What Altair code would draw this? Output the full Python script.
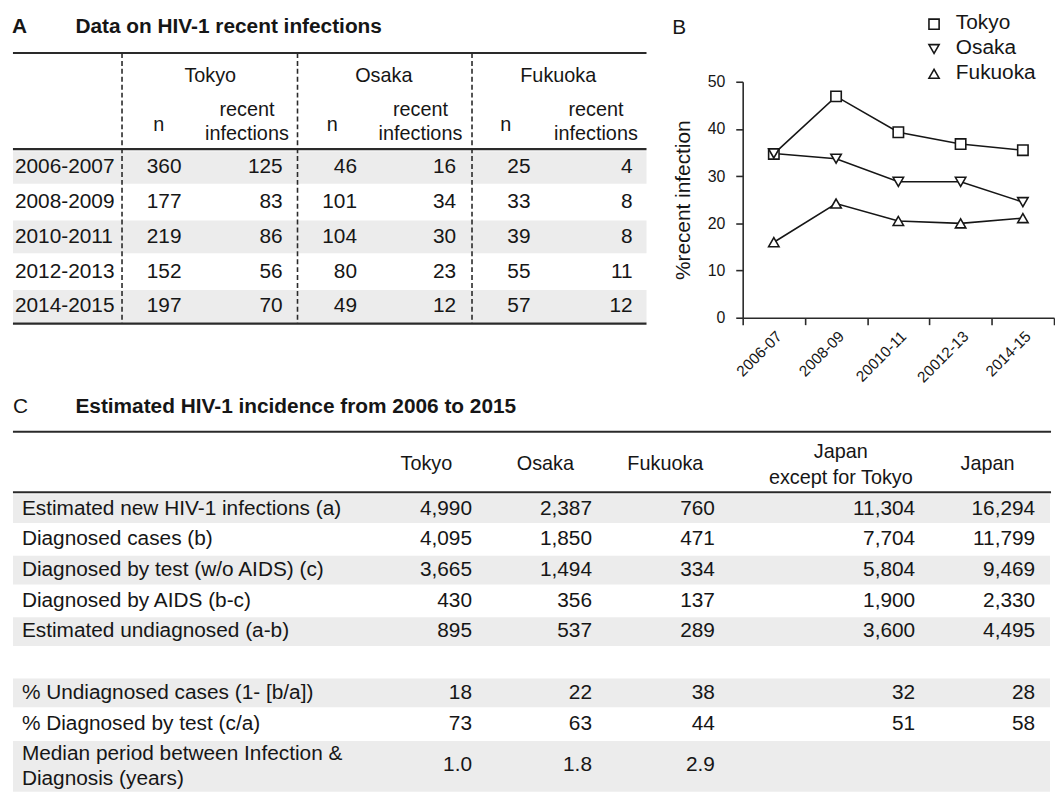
import altair as alt
import pandas as pd

# ---------------- data ----------------
cities = ["Tokyo", "Osaka", "Fukuoka"]
city_shapes = ["square", "triangle-down", "triangle-up"]

# Panel A: table of recent infections
periods_a = ["2006-2007", "2008-2009", "2010-2011", "2012-2013", "2014-2015"]
tokyo_n = [360, 177, 219, 152, 197]
tokyo_recent = [125, 83, 86, 56, 70]
osaka_n = [46, 101, 104, 80, 49]
osaka_recent = [16, 34, 30, 23, 12]
fukuoka_n = [25, 33, 39, 55, 57]
fukuoka_recent = [4, 8, 8, 11, 12]

# Panel B: % recent infection
periods_b = ["2006-07", "2008-09", "20010-11", "20012-13", "2014-15"]
tokyo_pct = [34.7, 46.9, 39.3, 36.8, 35.5]
osaka_pct = [34.8, 33.7, 28.8, 28.8, 24.5]
fukuoka_pct = [16.0, 24.2, 20.5, 20.0, 21.1]

# Panel C: estimated incidence
c_row_labels = [
    "Estimated new HIV-1 infections (a)",
    "Diagnosed cases (b)",
    "Diagnosed by test (w/o AIDS)  (c)",
    "Diagnosed by AIDS  (b-c)",
    "Estimated undiagnosed (a-b)",
    "% Undiagnosed cases (1- [b/a])",
    "% Diagnosed by test (c/a)",
    "Median period between Infection &|Diagnosis (years)",
]
c_col_labels = ["Tokyo", "Osaka", "Fukuoka", "Japan|except for Tokyo", "Japan"]
c_tokyo = [4990, 4095, 3665, 430, 895, 18, 73, 1.0]
c_osaka = [2387, 1850, 1494, 356, 537, 22, 63, 1.8]
c_fukuoka = [760, 471, 334, 137, 289, 38, 44, 2.9]
c_japan_ex = [11304, 7704, 5804, 1900, 3600, 32, 51, None]
c_japan = [16294, 11799, 9469, 2330, 4495, 28, 58, None]

# ---------------- layout (pixels) ----------------
W, H = 1055, 785
FONT = "Liberation Sans"
INK = "#161616"
RULE = "#2a2a2a"
SHADE = "#ececec"
FS = 21

A_ROW0, A_PITCH = 157.5, 35
A_LEFT, A_RIGHT = 5, 644
A_VAL_RIGHT = [(175, 277), (352, 452), (527, 630)]
A_GROUP_C = [204, 379, 555]
A_N_C = [152, 327, 502]
A_REC_C = [241, 416, 593]
A_DASH = [115, 292, 468]

C_ROW0, C_PITCH = 501.5, 31
C_ROW_IDX = [0, 1, 2, 3, 4, 6, 7, 8.34]
C_LEFT, C_RIGHT = 5, 1052
C_VAL_RIGHT = [468, 589, 713, 915, 1036]
C_HEAD_C = [422, 542, 663, 840, 988]

LEG_SYM_X, LEG_TXT_X = 934, 956
LEG_SYM_Y = [13, 38, 63]
LEG_TXT_Y = [12, 37, 62]


def cy(ri):
    return C_ROW0 + C_PITCH * ri


def fmt(v, ri):
    if v is None:
        return ""
    if ri == 7:
        return f"{v:.1f}"
    return f"{int(v):,}"


left_txt, right_txt, center_txt, bold_txt, shade, rules, dashes, legend_pts = [], [], [], [], [], [], [], []

# ---- panel A
bold_txt += [{"x": 4, "y": 16, "t": "A"}, {"x": 68, "y": 16, "t": "Data on HIV-1 recent infections"}]
for y in (42, 139, 315):
    rules.append({"x": A_LEFT, "x2": A_RIGHT, "y": y, "y2": y})
for x in A_DASH:
    dashes.append({"x": x, "x2": x, "y": 42, "y2": 315})
for k, c in enumerate(cities):
    center_txt.append({"x": A_GROUP_C[k], "y": 65, "t": c, "s": 20})
    center_txt.append({"x": A_N_C[k], "y": 115, "t": "n", "s": 20})
    center_txt.append({"x": A_REC_C[k], "y": 100, "t": "recent", "s": 20})
    center_txt.append({"x": A_REC_C[k], "y": 124, "t": "infections", "s": 20})
for i, p in enumerate(periods_a):
    y = A_ROW0 + A_PITCH * i
    if i % 2 == 0:
        shade.append({"x": A_LEFT, "x2": A_RIGHT, "y": y - 16.5, "y2": y + 16.5})
    left_txt.append({"x": 7, "y": y, "t": p})
for k, (ns, rs) in enumerate([(tokyo_n, tokyo_recent), (osaka_n, osaka_recent), (fukuoka_n, fukuoka_recent)]):
    for i in range(len(periods_a)):
        y = A_ROW0 + A_PITCH * i
        right_txt.append({"x": A_VAL_RIGHT[k][0], "y": y, "t": str(ns[i])})
        right_txt.append({"x": A_VAL_RIGHT[k][1], "y": y, "t": str(rs[i])})

# ---- panel B label and legend
left_txt.append({"x": 670, "y": 16.5, "t": "B"})
for k, c in enumerate(cities):
    legend_pts.append({"x": LEG_SYM_X, "y": LEG_SYM_Y[k], "city": c})
    left_txt.append({"x": LEG_TXT_X, "y": LEG_TXT_Y[k], "t": c})

# ---- panel C
left_txt.append({"x": 5, "y": 399.5, "t": "C"})
bold_txt.append({"x": 68, "y": 399.5, "t": "Estimated HIV-1 incidence from 2006 to 2015"})
for y in (424, 485):
    rules.append({"x": C_LEFT, "x2": C_RIGHT, "y": y, "y2": y})
for k, lab in enumerate(c_col_labels):
    parts = lab.split("|")
    if len(parts) == 1:
        center_txt.append({"x": C_HEAD_C[k], "y": 457, "t": lab, "s": 20})
    else:
        center_txt.append({"x": C_HEAD_C[k], "y": 444, "t": parts[0], "s": 20})
        center_txt.append({"x": C_HEAD_C[k], "y": 471, "t": parts[1], "s": 20})
for r, lab in enumerate(c_row_labels):
    ri = C_ROW_IDX[r]
    y = cy(ri)
    if r == 7:
        shade.append({"x": C_LEFT, "x2": C_RIGHT - 1, "y": cy(7.5) + 2, "y2": H + 2})
        a, b = lab.split("|")
        left_txt.append({"x": 14, "y": cy(7.98), "t": a})
        left_txt.append({"x": 14, "y": cy(8.79), "t": b})
    else:
        if ri in (0, 2, 4, 6):
            shade.append({"x": C_LEFT, "x2": C_RIGHT - 1, "y": y - 14.5, "y2": y + 14.5})
        left_txt.append({"x": 14, "y": y, "t": lab})
    for k, col in enumerate([c_tokyo, c_osaka, c_fukuoka, c_japan_ex, c_japan]):
        right_txt.append({"x": C_VAL_RIGHT[k], "y": y, "t": fmt(col[r], r)})

# ---------------- charts ----------------
xs = alt.Scale(domain=[0, W], nice=False, zero=False)
ys = alt.Scale(domain=[0, H], nice=False, zero=False, reverse=True)
shape_scale = alt.Scale(domain=cities, range=city_shapes)


def X(f="x"):
    return alt.X(f"{f}:Q", scale=xs, axis=None)


def Y(f="y"):
    return alt.Y(f"{f}:Q", scale=ys, axis=None)


shade_l = alt.Chart(pd.DataFrame(shade)).mark_rect(color=SHADE).encode(
    x=X(), x2="x2:Q", y=Y(), y2="y2:Q")
rules_l = alt.Chart(pd.DataFrame(rules)).mark_rule(color=RULE, strokeWidth=2.2).encode(
    x=X(), x2="x2:Q", y=Y(), y2="y2:Q")
dash_l = alt.Chart(pd.DataFrame(dashes)).mark_rule(color=RULE, strokeWidth=1.6, strokeDash=[5, 3]).encode(
    x=X(), x2="x2:Q", y=Y(), y2="y2:Q")
left_l = alt.Chart(pd.DataFrame(left_txt)).mark_text(
    align="left", baseline="middle", font=FONT, fontSize=FS, color=INK).encode(
    x=X(), y=Y(), text="t:N")
right_l = alt.Chart(pd.DataFrame(right_txt)).mark_text(
    align="right", baseline="middle", font=FONT, fontSize=FS, color=INK).encode(
    x=X(), y=Y(), text="t:N")
center_l = alt.Chart(pd.DataFrame(center_txt)).mark_text(
    align="center", baseline="middle", font=FONT, color=INK).encode(
    x=X(), y=Y(), text="t:N", size=alt.Size("s:Q", scale=None, legend=None))
bold_l = alt.Chart(pd.DataFrame(bold_txt)).mark_text(
    align="left", baseline="middle", font=FONT, fontSize=FS, fontWeight="bold", color=INK).encode(
    x=X(), y=Y(), text="t:N")
legend_l = alt.Chart(pd.DataFrame(legend_pts)).mark_point(
    filled=True, fill="white", stroke=INK, strokeWidth=1.6, size=105, opacity=1).encode(
    x=X(), y=Y(), shape=alt.Shape("city:N", scale=shape_scale, legend=None))

tables = alt.layer(shade_l, rules_l, dash_l, left_l, right_l, center_l, bold_l, legend_l)

# line chart B
rows_b = []
for c, vals in zip(cities, [tokyo_pct, osaka_pct, fukuoka_pct]):
    for p, v in zip(periods_b, vals):
        rows_b.append({"city": c, "period": p, "pct": v})
df_b = pd.DataFrame(rows_b)

base_b = alt.Chart(df_b).encode(
    x=alt.X("period:N", sort=periods_b,
            scale=alt.Scale(type="band", domain=periods_b, range=[741, 1055],
                            paddingInner=0, paddingOuter=0),
            axis=alt.Axis(orient="bottom", offset=309 - H, title=None, tickBand="extent",
                          labelAngle=-45, labelFontSize=15.5, labelFont=FONT, labelColor=INK,
                          tickSize=7, tickColor=RULE, domainColor=RULE, domainWidth=1.6,
                          tickWidth=1.6, labelPadding=4, grid=False)),
    y=alt.Y("pct:Q",
            scale=alt.Scale(domain=[0, 50], range=[309, 71], nice=False, zero=True),
            axis=alt.Axis(orient="left", offset=-741, values=[0, 10, 20, 30, 40, 50],
                          title="%recent infection", titleFont=FONT, titleFontSize=21,
                          titleFontWeight="normal", titleColor=INK, titleX=-60, titleY=190,
                          titleAngle=270, titleAlign="center", titleBaseline="middle",
                          labelFontSize=16, labelFont=FONT, labelColor=INK, labelPadding=11,
                          tickSize=7, tickColor=RULE, domainColor=RULE, domainWidth=1.6,
                          tickWidth=1.6, grid=False)),
)
line_b = base_b.mark_line(color=INK, strokeWidth=1.6).encode(detail="city:N")
pts_b = base_b.mark_point(filled=True, fill="white", stroke=INK, strokeWidth=1.6,
                          size=110, opacity=1).encode(
    shape=alt.Shape("city:N", scale=shape_scale, legend=None))
chart_b = alt.layer(line_b, pts_b)

chart = (
    alt.layer(tables, chart_b)
    .resolve_scale(x="independent", y="independent")
    .properties(width=W, height=H, padding=0)
    .configure_view(stroke=None)
)

chart.save("out.html", embed_options={"renderer": "svg", "actions": False})
